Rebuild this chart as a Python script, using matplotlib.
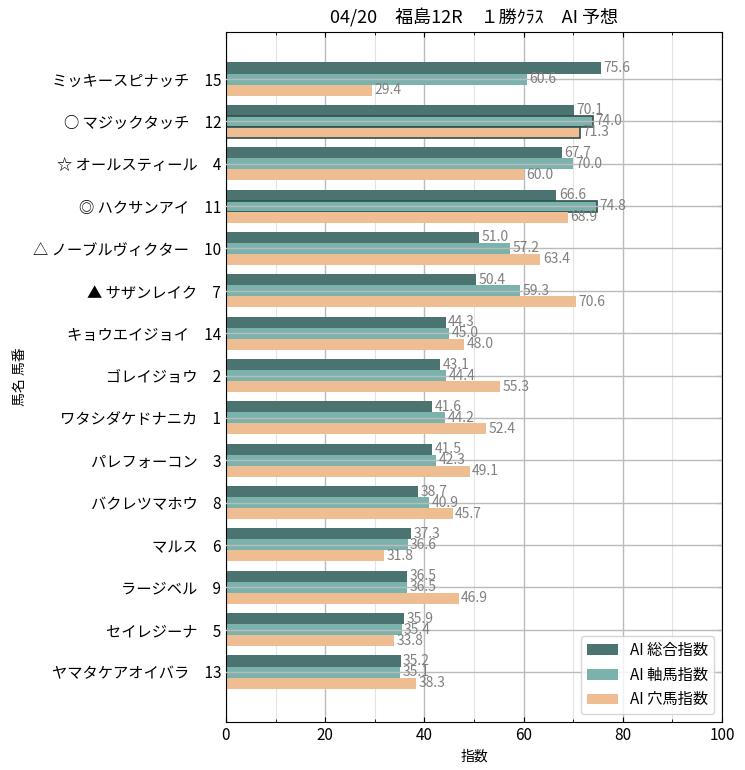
import matplotlib
matplotlib.use("Agg")
import matplotlib.pyplot as plt
import numpy as np
from matplotlib.ticker import MultipleLocator

plt.rcParams['font.family'] = ['Noto Sans CJK JP', 'DejaVu Sans']

labels = ["ミッキースピナッチ　15", "○ マジックタッチ　12", "☆ オールスティール　4",
          "◎ ハクサンアイ　11", "△ ノーブルヴィクター　10", "▲ サザンレイク　7",
          "キョウエイジョイ　14", "ゴレイジョウ　2", "ワタシダケドナニカ　1",
          "パレフォーコン　3", "バクレツマホウ　8", "マルス　6", "ラージベル　9",
          "セイレジーナ　5", "ヤマタケアオイバラ　13"]
sogo = [75.6, 70.1, 67.7, 66.6, 51.0, 50.4, 44.3, 43.1, 41.6, 41.5, 38.7, 37.3, 36.5, 35.9, 35.2]
jiku = [60.6, 74.0, 70.0, 74.8, 57.2, 59.3, 45.0, 44.4, 44.2, 42.3, 40.9, 36.6, 36.5, 35.4, 35.1]
ana = [29.4, 71.3, 60.0, 68.9, 63.4, 70.6, 48.0, 55.3, 52.4, 49.1, 45.7, 31.8, 46.9, 33.8, 38.3]
series_names = ["AI 総合指数", "AI 軸馬指数", "AI 穴馬指数"]
colors = ["#4b7470", "#7bb3ac", "#eebd92"]
title = "04/20　福島12R　１勝ｸﾗｽ　AI 予想"

fig = plt.figure(figsize=(7.45, 7.7), dpi=100)
ax = fig.add_axes([226/745, 48/770, 496/745, 690/770])

y = np.arange(len(labels))
h = 0.26
data = [sogo, jiku, ana]
offsets = [-h, 0, h]
bars = []
for vals, off, c, nm in zip(data, offsets, colors, series_names):
    b = ax.barh(y + off, vals, height=h, color=c, label=nm, zorder=2)
    bars.append(b)
    for yi, v in zip(y + off, vals):
        ax.text(v + 0.5, yi, f"{v:.1f}", va='center', ha='left', fontsize=10,
                color='#808080', zorder=4)

# highlighted bars
for b in [bars[1][1], bars[2][1], bars[1][3]]:
    b.set_edgecolor('#2f4f4c')
    b.set_linewidth(1.2)

ax.set_xlim(0, 100)
ax.set_ylim(15.18, -1.11)
ax.set_yticks(y)
ax.set_yticklabels(labels, fontsize=11)
ax.xaxis.set_major_locator(MultipleLocator(20))
ax.xaxis.set_minor_locator(MultipleLocator(10))
ax.tick_params(axis='x', labelsize=11)
ax.tick_params(which='both', direction='in', top=True, right=True)
ax.grid(axis='x', which='major', color='#bbbbbb', linewidth=1.0, zorder=0)
ax.grid(axis='x', which='minor', color='#e3e3e3', linewidth=0.8, zorder=0)
ax.set_axisbelow(True)
for yi in y:
    ax.axhline(yi, color='#bbbbbb', linewidth=1.0, zorder=3)

ax.set_xlabel("指数", fontsize=10)
ax.set_ylabel("馬名 馬番", fontsize=10)
ax.set_title(title, fontsize=13)
ax.legend(loc='lower right', fontsize=11, framealpha=0.8)

fig.savefig("out.png", dpi=100)
